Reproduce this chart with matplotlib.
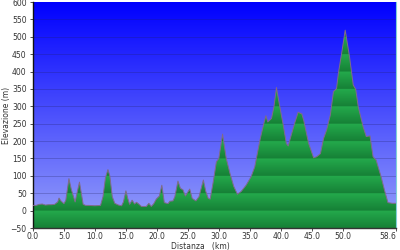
import numpy as np
import matplotlib
matplotlib.use("Agg")
import matplotlib.pyplot as plt
from matplotlib.patches import Polygon

# elevation profile (km, metres)
km = [0, 0.5, 1.0, 1.5, 2.0, 2.5, 3.0, 3.5, 4.0, 4.2, 4.5, 5.0, 5.3, 5.8, 6.2,
      6.8, 7.1, 7.5, 7.8, 8.1, 8.5, 9.0, 10.0, 10.9, 11.3, 11.7, 12.1, 12.4, 12.8,
      13.2, 13.8, 14.3, 14.6, 15.0, 15.3, 15.6, 16.0, 16.4, 16.7, 17.0, 17.5, 18.3,
      18.7, 19.1, 19.5, 19.9, 20.4, 20.8, 21.2, 21.8, 22.1, 22.6, 22.9, 23.4, 23.8,
      24.2, 24.6, 25.3, 25.7, 26.3, 26.8, 27.5, 27.9, 28.3, 28.6, 29.1, 29.6, 30.0,
      30.6, 31.2, 31.8, 32.4, 33.0, 33.6, 34.4, 35.2, 35.8, 36.3, 36.7, 37.2, 37.6,
      37.9, 38.5, 38.9, 39.3, 39.8, 40.4, 40.9, 41.2, 41.7, 42.3, 42.8, 43.4, 43.7,
      44.5, 45.3, 45.8, 46.4, 46.9, 47.4, 48.0, 48.5, 49.0, 49.3, 49.9, 50.4, 51.1,
      51.7, 52.1, 52.5, 53.3, 53.8, 54.4, 54.9, 55.4, 56.2, 56.8, 57.3, 58.0, 58.6]
elev = [15, 15, 18, 19, 16, 17, 17, 18, 25, 36, 28, 20, 30, 92, 60,
        25, 50, 82, 50, 18, 15, 15, 14, 15, 40, 95, 118, 100, 40,
        21, 16, 14, 25, 57, 35, 18, 30, 19, 24, 20, 12, 12,
        21, 12, 20, 33, 42, 73, 23, 20, 27, 28, 40, 85, 64,
        60, 42, 62, 35, 28, 40, 88, 55, 35, 33, 83, 140, 150,
        220, 150, 107, 70, 47, 55, 73, 97, 126, 172, 208, 246, 273,
        255, 265, 299, 354, 303, 246, 193, 186, 218, 255, 283, 278, 260,
        193, 152, 155, 164, 207, 232, 275, 342, 351, 395, 461, 519, 442,
        361, 349, 299, 241, 213, 215, 155, 145, 97, 55, 23, 21, 21]

x_ticks = [0, 5, 10, 15, 20, 25, 30, 35, 40, 45, 50, 58.6]
y_ticks = list(range(-50, 601, 50))
x_max, y_min, y_max = 58.6, -50, 600

fig = plt.figure(figsize=(4, 2.5), dpi=100)
ax = fig.add_axes([33 / 400, 22 / 250, 363 / 400, 226 / 250])
ax.set_xlim(0, x_max)
ax.set_ylim(y_min, y_max)

# blue vertical gradient background
t = np.linspace(0, 1, 256)[:, None]
top, bot = np.array([0, 0, 255]) / 255, np.array([152, 162, 250]) / 255
bg = top + (bot - top) * t
ax.imshow(bg[:, None, :].repeat(2, axis=1), extent=[0, x_max, y_min, y_max],
          aspect="auto", zorder=0)

for y in y_ticks[1:-1]:
    ax.axhline(y, color="#202060", alpha=0.3, lw=0.6, zorder=1)

# green banded fill, light just under each grid line, darker towards the next
yy = np.linspace(y_max, y_min, 650)
frac = ((yy - y_min) % 50) / 50
light, dark = np.array([36, 170, 76]) / 255, np.array([22, 128, 54]) / 255
band = dark + (light - dark) * frac[:, None]
im = ax.imshow(band[:, None, :].repeat(2, axis=1), extent=[0, x_max, y_min, y_max],
               aspect="auto", zorder=2)
poly = np.column_stack([[0] + km + [x_max], [y_min] + elev + [y_min]])
clip = Polygon(poly, closed=True, transform=ax.transData, facecolor="none")
ax.add_patch(clip)
im.set_clip_path(clip)
ax.plot(km, elev, color="#806a8a", lw=0.7, zorder=3)

ax.set_xticks(x_ticks)
ax.set_xticklabels([f"{v:.1f}" for v in x_ticks])
ax.set_yticks(y_ticks)
ax.tick_params(labelsize=5.5, colors="#333333", length=2, width=0.6, pad=1)
ax.tick_params(axis="y", pad=2.5)
ax.get_xticklabels()[-1].set_horizontalalignment("right")
fig.text(200 / 400, 1 - 246 / 250, "Distanza   (km)", fontsize=5.5,
         color="#333333", ha="center", va="center")
fig.text(7 / 400, 1 - 115 / 250, "Elevazione (m)", fontsize=5.5,
         color="#333333", ha="center", va="center", rotation=90)

ax.spines["top"].set_visible(False)
ax.spines["right"].set_color("#7fd0d8")
ax.spines["right"].set_linewidth(0.8)
ax.spines["left"].set_color("#111111")
ax.spines["bottom"].set_color("#333333")
ax.spines["left"].set_linewidth(1.0)
ax.spines["bottom"].set_linewidth(1.0)

fig.savefig("out.png", dpi=100)
